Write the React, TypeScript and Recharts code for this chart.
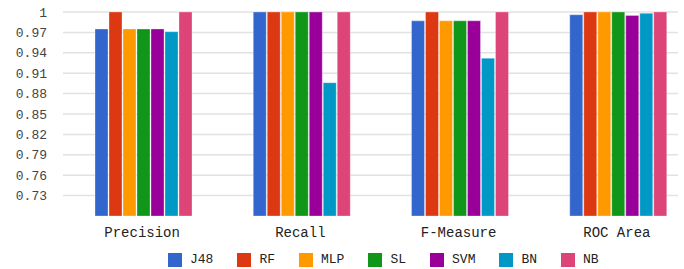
import React from "react";
import { BarChart, Bar, XAxis, YAxis, CartesianGrid, Legend } from "recharts";

const metrics = ["Precision", "Recall", "F-Measure", "ROC Area"];

const j48 = [0.975, 1, 0.987, 0.996];
const rf = [1, 1, 1, 1];
const mlp = [0.975, 1, 0.987, 1];
const sl = [0.975, 1, 0.987, 1];
const svm = [0.975, 1, 0.987, 0.995];
const bn = [0.971, 0.896, 0.932, 0.998];
const nb = [1, 1, 1, 1];

const yTicks = [0.73, 0.76, 0.79, 0.82, 0.85, 0.88, 0.91, 0.94, 0.97, 1];

const SERIES = [
  { key: "J48", values: j48, color: "#3366cc" },
  { key: "RF", values: rf, color: "#dc3912" },
  { key: "MLP", values: mlp, color: "#ff9900" },
  { key: "SL", values: sl, color: "#109618" },
  { key: "SVM", values: svm, color: "#990099" },
  { key: "BN", values: bn, color: "#0099c6" },
  { key: "NB", values: nb, color: "#dd4477" },
];

const data = metrics.map((m, i) => {
  const row: Record<string, string | number> = { metric: m };
  SERIES.forEach((s) => {
    row[s.key] = s.values[i];
  });
  return row;
});

const FONT = '"Liberation Mono", "Courier New", monospace';

function ChartLegend() {
  return (
    <div
      style={{
        display: "flex",
        alignItems: "center",
        paddingLeft: 168,
        paddingTop: 11,
        fontFamily: FONT,
        fontSize: 13,
        color: "#222",
      }}
    >
      {SERIES.map((s) => (
        <div key={s.key} style={{ display: "flex", alignItems: "center", marginRight: 24 }}>
          <span
            style={{
              display: "inline-block",
              width: 14,
              height: 14,
              background: s.color,
              marginRight: 8,
            }}
          />
          <span>{s.key}</span>
        </div>
      ))}
    </div>
  );
}

export default function App() {
  return (
    <div style={{ position: "absolute", left: 0, top: 0, width: 684, height: 269, background: "#fff" }}>
      <BarChart
        width={684}
        height={269}
        data={data}
        margin={{ top: 12, right: 6, bottom: 0, left: 0 }}
        barCategoryGap={32}
        barGap={1}
      >
        <CartesianGrid vertical={false} stroke="#e2e2e2" strokeWidth={1.5} syncWithTicks />
        <XAxis
          dataKey="metric"
          axisLine={false}
          tickLine={false}
          tickSize={0}
          tickMargin={11}
          height={25}
          padding={{ left: 0, right: -18 }}
          tick={{ fill: "#222", fontSize: 14, fontFamily: FONT }}
          interval={0}
        />
        <YAxis
          domain={[0.7, 1]}
          ticks={yTicks}
          interval={0}
          axisLine={false}
          tickLine={false}
          tickSize={0}
          tickMargin={16}
          width={63}
          allowDataOverflow
          tick={{ fill: "#444", fontSize: 13, fontFamily: FONT }}
        />
        <Legend verticalAlign="bottom" height={28} content={() => <ChartLegend />} />
        {SERIES.map((s) => (
          <Bar
            key={s.key}
            dataKey={s.key}
            fill={s.color}
            stroke="#ffffff"
            strokeOpacity={0.3}
            strokeWidth={1}
            isAnimationActive={false}
          />
        ))}
      </BarChart>
    </div>
  );
}
